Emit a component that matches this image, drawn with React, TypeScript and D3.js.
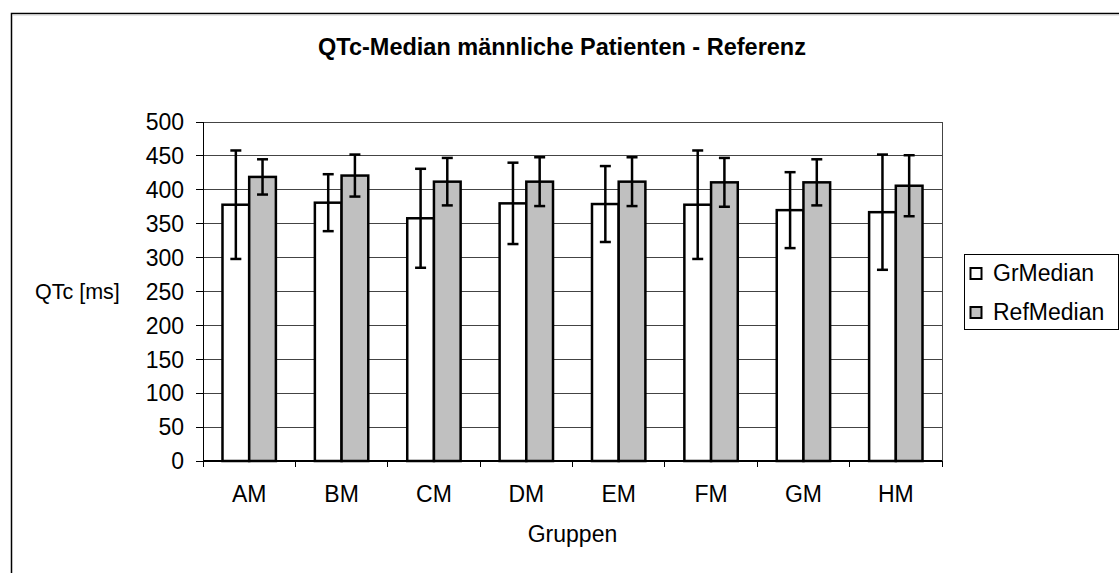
import React from "react";
import * as d3 from "d3";

const categories = ["AM", "BM", "CM", "DM", "EM", "FM", "GM", "HM"];
const seriesNames = ["GrMedian", "RefMedian"];
const grMedian = [378, 381, 358, 380, 379, 378, 370, 367];
const grError = [80, 42, 73, 60, 56, 80, 56, 85];
const refMedian = [419, 421, 412, 412, 412, 411, 411, 406];
const refError = [26, 31, 35, 36, 36, 36, 34, 45];
const yTicks = [0, 50, 100, 150, 200, 250, 300, 350, 400, 450, 500];

const W = 1119;
const H = 573;
const plot = { left: 203, right: 942, top: 122, bottom: 461 };
const FONT = "'Liberation Sans', Arial, sans-serif";
const fills = ["#ffffff", "#c0c0c0"];

export default function App() {
  const x0 = d3.scaleBand().domain(categories).range([plot.left, plot.right]).padding(0);
  const step = x0.step();
  const groupW = step * 0.578;
  const x1 = d3
    .scaleBand()
    .domain(seriesNames)
    .range([(step - groupW) / 2, (step + groupW) / 2])
    .padding(0);
  const y = d3.scaleLinear().domain([0, 500]).range([plot.bottom, plot.top]);
  const bw = x1.bandwidth();
  const values = [grMedian, refMedian];
  const errors = [grError, refError];
  const capW = 11;

  return (
    <svg
      width={W}
      height={H}
      style={{ position: "absolute", left: 0, top: 0, background: "#fff" }}
      fontFamily={FONT}
    >
      <rect x={0} y={0} width={W} height={H} fill="#fff" />
      {/* outer chart border */}
      <rect x={11.5} y={13.5} width={W + 50} height={H + 50} fill="none" stroke="#000" strokeWidth={1.5} />
      <line x1={12.5} y1={15} x2={W} y2={15} stroke="#ccc" strokeWidth={1} />

      <text x={562} y={55} textAnchor="middle" fontSize={23.5} fontWeight="bold" fill="#000">
        QTc-Median männliche Patienten - Referenz
      </text>

      {/* gridlines */}
      {yTicks.map((t) =>
        t === 0 ? null : (
          <line key={"g" + t} x1={plot.left} x2={plot.right} y1={y(t)} y2={y(t)} stroke="#444" strokeWidth={1} shapeRendering="crispEdges" />
        )
      )}
      {/* right border */}
      <line x1={plot.right} x2={plot.right} y1={plot.top} y2={plot.bottom} stroke="#444" strokeWidth={1} shapeRendering="crispEdges" />

      {/* bars */}
      {categories.map((c, i) => (
        <g key={c} transform={`translate(${x0(c)},0)`}>
          {seriesNames.map((s, k) => {
            const v = values[k][i];
            const e = errors[k][i];
            const bx = x1(s)!;
            const cx = bx + bw / 2;
            return (
              <g key={s}>
                <rect x={bx} y={y(v)} width={bw} height={y(0) - y(v)} fill={fills[k]} stroke="#000" strokeWidth={2.5} />
                <line x1={cx} x2={cx} y1={y(v + e)} y2={y(v - e)} stroke="#000" strokeWidth={2.5} />
                <line x1={cx - capW / 2} x2={cx + capW / 2} y1={y(v + e)} y2={y(v + e)} stroke="#000" strokeWidth={2.5} />
                <line x1={cx - capW / 2} x2={cx + capW / 2} y1={y(v - e)} y2={y(v - e)} stroke="#000" strokeWidth={2.5} />
              </g>
            );
          })}
        </g>
      ))}

      {/* y axis */}
      <line x1={plot.left} x2={plot.left} y1={plot.top} y2={plot.bottom} stroke="#000" strokeWidth={1} shapeRendering="crispEdges" />
      {yTicks.map((t) => (
        <g key={"yt" + t}>
          <line x1={plot.left - 7} x2={plot.left} y1={y(t)} y2={y(t)} stroke="#000" strokeWidth={1} shapeRendering="crispEdges" />
          <text x={184} y={y(t)} dy="0.36em" textAnchor="end" fontSize={23} fill="#000">
            {t}
          </text>
        </g>
      ))}
      <text x={35} y={y(250)} dy="0.36em" textAnchor="start" fontSize={21.5} fill="#000">
        QTc [ms]
      </text>

      {/* x axis */}
      <line x1={plot.left} x2={plot.right} y1={plot.bottom} y2={plot.bottom} stroke="#000" strokeWidth={2} />
      {d3.range(categories.length + 1).map((j) => {
        const xx = plot.left + j * step;
        return <line key={"xt" + j} x1={xx} x2={xx} y1={plot.bottom} y2={plot.bottom + 6} stroke="#000" strokeWidth={1} shapeRendering="crispEdges" />;
      })}
      {categories.map((c) => (
        <text key={"xl" + c} x={x0(c)! + step / 2} y={502} textAnchor="middle" fontSize={23} fill="#000">
          {c}
        </text>
      ))}
      <text x={(plot.left + plot.right) / 2} y={542} textAnchor="middle" fontSize={23} fill="#000">
        Gruppen
      </text>

      {/* legend */}
      <rect x={964.5} y={254.5} width={154} height={75} fill="#fff" stroke="#000" strokeWidth={1} />
      {seriesNames.map((s, k) => {
        const cy = 273 + k * 39;
        return (
          <g key={"lg" + s}>
            <rect x={970.5} y={cy - 5} width={11} height={11} fill={fills[k]} stroke="#000" strokeWidth={2} />
            <text x={993} y={cy} dy="0.36em" fontSize={23} fill="#000">
              {s}
            </text>
          </g>
        );
      })}
    </svg>
  );
}
